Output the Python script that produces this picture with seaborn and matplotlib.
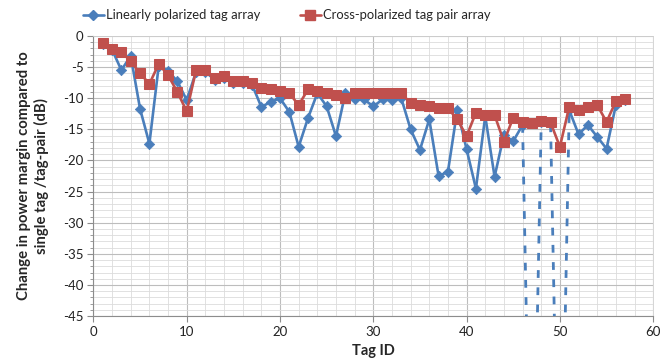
import numpy as np
import pandas as pd
import matplotlib
matplotlib.use("Agg")
import matplotlib.pyplot as plt
import seaborn as sns
from matplotlib.lines import Line2D
from matplotlib.ticker import MultipleLocator

tag_id = list(range(1, 58))
linear = [-1.3, -2.2, -5.5, -3.2, -11.7, -17.3, -4.8, -5.6, -7.3, -10.3,
          -5.8, -5.8, -7.0, -6.8, -7.5, -7.5, -7.8, -11.4, -10.6, -10.0,
          -12.2, -17.8, -13.2, -9.2, -11.3, -16.1, -9.2, -10.2, -10.2, -11.3,
          -10.2, -10.3, -10.0, -15.0, -18.3, -13.4, -22.5, -21.8, -11.9, -18.2,
          -24.5, -12.9, -22.6, -15.9, -16.9, -14.3, -90.0, -13.8, -14.2, -90.0,
          -11.9, -15.8, -14.3, -16.2, -18.1, -11.1, -10.3]
cross = [-1.2, -2.1, -2.5, -4.1, -6.0, -7.7, -4.5, -6.3, -9.0, -12.1,
         -5.5, -5.5, -6.8, -6.5, -7.3, -7.3, -7.5, -8.3, -8.6, -8.8,
         -9.2, -11.1, -8.6, -8.8, -9.2, -9.5, -10.0, -9.2, -9.2, -9.2,
         -9.2, -9.2, -9.2, -10.8, -11.1, -11.3, -11.5, -11.6, -13.4, -16.1,
         -12.3, -12.7, -12.7, -17.0, -13.1, -13.8, -14.0, -13.6, -13.9, -17.8,
         -11.4, -11.9, -11.4, -11.1, -13.8, -10.5, -10.1]
series_names = ["Linearly polarized tag array", "Cross-polarized tag pair array"]
x_ticks = [0, 10, 20, 30, 40, 50, 60]
y_ticks = [0, -5, -10, -15, -20, -25, -30, -35, -40, -45]

BLUE = "#4A7EBB"
RED = "#C0504D"
Y_MIN = -45

sns.set_theme(style="white")
plt.rcParams["font.family"] = ["Lato", "DejaVu Sans"]
plt.rcParams["axes.unicode_minus"] = False

df = pd.DataFrame({"tag": tag_id, "linear": linear, "cross": cross})

rows = []
for k in range(len(tag_id) - 1):
    a, b = linear[k], linear[k + 1]
    kind = "solid" if (a >= Y_MIN and b >= Y_MIN) else "dashed"
    rows.append(dict(tag=tag_id[k], val=a, seg=k, kind=kind))
    rows.append(dict(tag=tag_id[k + 1], val=b, seg=k, kind=kind))
seg_df = pd.DataFrame(rows)

fig = plt.figure(figsize=(6.72, 3.63), dpi=100)
ax = fig.add_axes([0.139, 0.129, 0.833, 0.772])

sns.lineplot(data=seg_df[seg_df.kind == "solid"], x="tag", y="val", units="seg",
             estimator=None, sort=False, color=BLUE, linewidth=1.9, ax=ax, zorder=3)
sns.lineplot(data=seg_df[seg_df.kind == "dashed"], x="tag", y="val", units="seg",
             estimator=None, sort=False, color=BLUE, linewidth=2.0,
             linestyle=(0, (2.8, 3.4)), ax=ax, zorder=3)
sns.scatterplot(data=df[df.linear >= Y_MIN], x="tag", y="linear", marker="D", s=28,
                color=BLUE, edgecolor=BLUE, linewidth=0.5, ax=ax, zorder=4)
sns.lineplot(data=df, x="tag", y="cross", color=RED, linewidth=1.9, marker="s",
             markersize=7.5, markeredgecolor=RED, ax=ax, zorder=5)

ax.set_xlim(0, 60)
ax.set_ylim(-45, 0)
ax.set_xticks(x_ticks)
ax.set_yticks(y_ticks)
ax.xaxis.set_minor_locator(MultipleLocator(2))
ax.yaxis.set_minor_locator(MultipleLocator(1))
ax.grid(which="major", color="#BDBDBD", linewidth=0.8)
ax.grid(which="minor", color="#DCDCDC", linewidth=0.6)
ax.set_axisbelow(True)
for s in ["top", "right"]:
    ax.spines[s].set_color("#CFCFCF")
    ax.spines[s].set_linewidth(0.6)
for s in ["left", "bottom"]:
    ax.spines[s].set_color("#8C8C8C")
    ax.spines[s].set_linewidth(0.8)
ax.tick_params(axis="both", which="major", direction="out", length=4, width=0.8,
               color="#8C8C8C", labelsize=9.5, labelcolor="#222222", pad=3,
               left=True, bottom=True)
ax.tick_params(axis="y", which="minor", direction="out", length=2, width=0.6,
               color="#8C8C8C", left=True)
ax.set_xlabel("Tag ID", fontsize=10.5, fontweight="bold")
ax.xaxis.set_label_coords(0.5, -0.1)
ax.set_ylabel("Change in power margin compared to\nsingle tag /tag-pair (dB)",
              fontsize=10.7, fontweight="bold", linespacing=1.25)
ax.yaxis.set_label_coords(-0.079, 0.5)

handles = [Line2D([0], [0], color=BLUE, marker="D", markersize=5, linewidth=1.9),
           Line2D([0], [0], color=RED, marker="s", markersize=7, linewidth=1.9)]
fig.legend(handles, series_names, loc="center", bbox_to_anchor=(287 / 672, 0.958),
           ncol=2, frameon=False, fontsize=9.4, handlelength=1.6, handletextpad=0.2,
           columnspacing=3.0, borderaxespad=0)

fig.savefig("out.png", dpi=100)
